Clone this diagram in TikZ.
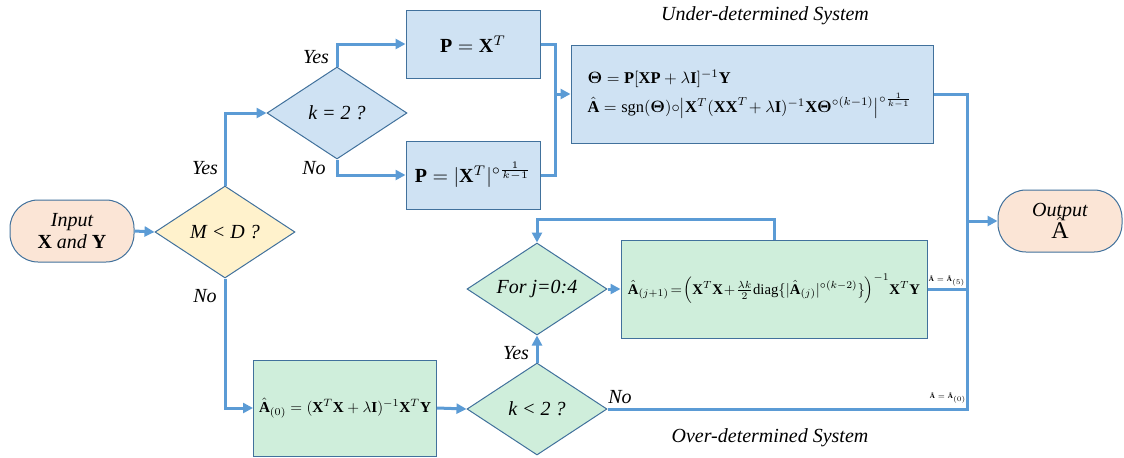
\documentclass[tikz,border=0pt]{standalone}
\usepackage{amsmath}
\usepackage{graphicx}
\usepackage{fontspec}
\setmainfont{Liberation Serif}
\usepackage{tikz}
\usetikzlibrary{positioning,shapes.geometric,arrows.meta,calc}
\definecolor{flowline}{HTML}{5B9BD5}
\definecolor{edgeblue}{HTML}{41719C}
\definecolor{peachfill}{HTML}{FBE5D6}
\definecolor{yellowfill}{HTML}{FFF2CC}
\definecolor{bluefill}{HTML}{CFE2F3}
\definecolor{greenfill}{HTML}{CFEEDB}

\begin{document}
\begin{tikzpicture}[
    x=0.5pt, y=-0.5pt,
    box/.style = {
        rectangle,
        draw=edgeblue,
        line width=0.5pt,
        align=center,
        inner sep=2pt
    },
    terminal/.style = {box, fill=peachfill, rounded corners=14pt, minimum width=62pt, minimum height=31pt, font=\itshape},
    decision/.style = {diamond, draw=edgeblue, line width=0.5pt, inner sep=0pt, aspect=1.5,
                       minimum width=70pt, minimum height=46pt, font=\itshape},
    bluebox/.style  = {box, fill=bluefill},
    greenbox/.style = {box, fill=greenfill},
    flow/.style     = {-{Triangle[length=5pt,width=5pt]}, line width=1.5pt, draw=flowline},
    busline/.style  = {line width=1.5pt, draw=flowline},
    branch/.style   = {font=\itshape, inner sep=1pt},
    tag/.style      = {font=\tiny, inner sep=0.5pt}
]

\useasboundingbox (0,0) rectangle (1124,457);

% start and end
\node[terminal] (input) at (72,231) {Input\\[-1pt]\upshape$\mathbf{X}$ \itshape and \upshape$\mathbf{Y}$};
\node[terminal] (output) at (1060,221) {Output\\[-3pt]\upshape\large$\hat{\mathrm{A}}$};

% decisions
\node[decision, fill=yellowfill] (mltd)   at (225,232) {M < D ?};
\node[decision, fill=bluefill]   (keq)    at (337,113) {k = 2 ?};
\node[decision, fill=greenfill]  (forj)   at (537,289) {For j=0:4};
\node[decision, fill=greenfill]  (ksmall) at (537,409) {k < 2 ?};

% under-determined branch
\node[bluebox, minimum width=67pt, minimum height=34pt] (ptrans) at (473,44)
    {$\mathbf{P} = \mathbf{X}^T$};
\node[bluebox, minimum width=67pt, minimum height=34pt] (pabs) at (473,175)
    {$\mathbf{P} = |\mathbf{X}^T|^{{\circ}\frac{1}{k-1}}$};
\node[bluebox, minimum width=181pt, minimum height=49pt, align=left] (theta) at (752,94) {
    \resizebox{162pt}{!}{$\begin{array}{@{}l@{}}
    \boldsymbol{\Theta} = \mathbf{P}[\mathbf{XP} + \lambda\mathbf{I}]^{-1}\mathbf{Y}\\[2pt]
    \hat{\mathbf{A}} = \mathrm{sgn}(\boldsymbol{\Theta}){\circ}\bigl|\mathbf{X}^T(\mathbf{XX}^T\!+\lambda\mathbf{I})^{-1}\mathbf{X}\boldsymbol{\Theta}^{{\circ}(k-1)}\bigr|^{{\circ}\frac{1}{k-1}}
    \end{array}$}
};

% over-determined branch
\node[greenbox, minimum width=91.5pt, minimum height=48pt] (azero) at (345,408)
    {\resizebox{86pt}{!}{$\hat{\mathbf{A}}_{(0)} = (\mathbf{X}^T\mathbf{X} + \lambda\mathbf{I})^{-1}\mathbf{X}^T\mathbf{Y}$}};
\node[greenbox, minimum width=153pt, minimum height=49pt, inner sep=1pt] (aupd) at (774,289)
    {\resizebox{146pt}{!}{$\hat{\mathbf{A}}_{(j+1)}\!=\!\Bigl(\mathbf{X}^T\mathbf{X}\!+\!\frac{\lambda k}{2}\mathrm{diag}\{|\hat{\mathbf{A}}_{(j)}|^{{\circ}(k-2)}\}\Bigr)^{-1}\mathbf{X}^T\mathbf{Y}$}};

% labels
\node[branch] (yesmd)  at (205,168) {Yes};
\node[branch] (nomd)   at (205,296) {No};
\node[branch] (yeskeq) at (316,57)  {Yes};
\node[branch] (nokeq)  at (314,168) {No};
\node[branch] (yesks)  at (516,353) {Yes};
\node[branch] (noks)   at (620,397) {No};
\node[branch] (under)  at (765,16)  {Under-determined System};
\node[branch] (over)   at (770,438) {Over-determined System};
\node[tag] (tagfive) at (947,281) {\scalebox{0.7}{$\hat{\mathbf{A}}=\hat{\mathbf{A}}_{(5)}$}};
\node[tag] (tagzero) at (948,398) {\scalebox{0.7}{$\hat{\mathbf{A}}=\hat{\mathbf{A}}_{(0)}$}};

\coordinate (merge) at (555,94);
\coordinate (bus) at (967,0);

% connectors
\draw[flow] (input.east) -- (mltd.west);
\draw[flow] (mltd.north) |- (keq.west);
\draw[flow] (mltd.south) |- (azero.west);
\draw[flow] (keq.north) |- (ptrans.west);
\draw[flow] (keq.south) |- (pabs.west);
\draw[busline] (ptrans.east) -| (merge);
\draw[busline] (pabs.east) -| (merge);
\draw[flow] (merge) -- (theta.west);
\draw[busline] (theta.east) -| (bus |- ksmall.east) -- (ksmall.east);
\draw[busline] (aupd.east) -- (aupd.east -| bus);
\draw[flow] (output.west -| bus) -- (output.west);
\draw[flow] (azero.east) -- (ksmall.west);
\draw[flow] (ksmall.north) -- (forj.south);
\draw[flow] (forj.east) -- (aupd.west);
\draw[flow] (aupd.north) -- ++(0,-20) -| (forj.north);

\end{tikzpicture}
\end{document}
